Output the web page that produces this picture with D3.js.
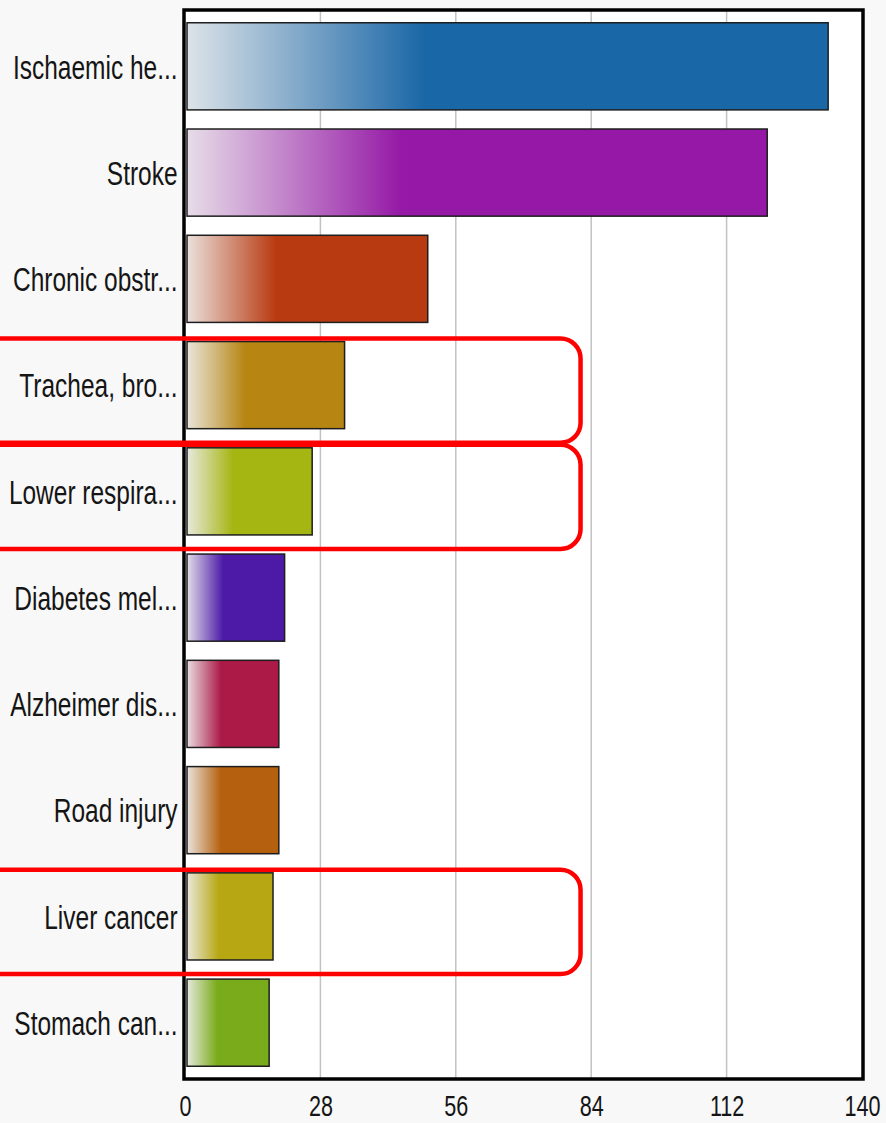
<!DOCTYPE html>
<html>
<head>
<meta charset="utf-8">
<script src="https://cdn.jsdelivr.net/npm/d3@7"></script>
<style>
    body { margin: 0; background: #f8f8f8; }
    svg { display: block; }
</style>
</head>
<body>
<svg></svg>
<script>
// causes of death, horizontal bar chart
var categories = ['Ischaemic he...', 'Stroke', 'Chronic obstr...', 'Trachea, bro...', 'Lower respira...',
    'Diabetes mel...', 'Alzheimer dis...', 'Road injury', 'Liver cancer', 'Stomach can...'];
var values = [133, 120.4, 50.2, 33, 26.3, 20.6, 19.4, 19.4, 18.2, 17.4];
var colors = ['#1a67a7', '#9519a6', '#b83a10', '#b68512', '#a5b512',
    '#4d1aa8', '#ac1a47', '#b5600e', '#b7a713', '#7aab1a'];
var xTicks = [0, 28, 56, 84, 112, 140];
var highlighted = ['Trachea, bro...', 'Lower respira...', 'Liver cancer'];

var svgWidth = 886,
    svgHeight = 1123;
var plot = {left: 184, right: 863, top: 10, bottom: 1079};

var svg = d3.select('svg')
    .attr('width', svgWidth)
    .attr('height', svgHeight);

svg.append('rect')
    .attr('width', svgWidth)
    .attr('height', svgHeight)
    .attr('fill', '#f8f8f8');

var xScale = d3.scaleLinear()
    .domain([0, 140])
    .range([plot.left + 1, plot.right - 1]);

var yScale = d3.scaleBand()
    .domain(categories)
    .range([plot.top, plot.bottom])
    .paddingInner(0.18)
    .paddingOuter(0.12);

// gradients: pale on the left, full colour from ~37% of the bar
var defs = svg.append('defs');
colors.forEach(function (c, i) {
    var grad = defs.append('linearGradient')
        .attr('id', 'grad' + i)
        .attr('x1', 0).attr('x2', 1).attr('y1', 0).attr('y2', 0);
    grad.append('stop').attr('offset', 0).attr('stop-color', d3.interpolateRgb('#eeeeee', c)(0.08));
    grad.append('stop').attr('offset', 0.37).attr('stop-color', c);
    grad.append('stop').attr('offset', 1).attr('stop-color', c);
});

// plot background
svg.append('rect')
    .attr('x', plot.left)
    .attr('y', plot.top)
    .attr('width', plot.right - plot.left)
    .attr('height', plot.bottom - plot.top)
    .attr('fill', '#ffffff');

// grid
svg.selectAll('.grid')
    .data(xTicks.slice(1, -1))
    .enter()
    .append('line')
    .attr('class', 'grid')
    .attr('x1', function (d) { return xScale(d); })
    .attr('x2', function (d) { return xScale(d); })
    .attr('y1', plot.top)
    .attr('y2', plot.bottom)
    .attr('stroke', '#c2c2c2')
    .attr('stroke-width', 1.5);

// bars
svg.selectAll('.bar')
    .data(values)
    .enter()
    .append('rect')
    .attr('class', 'bar')
    .attr('x', xScale(0) + 2)
    .attr('y', function (d, i) { return yScale(categories[i]); })
    .attr('width', function (d) { return xScale(d) - xScale(0) - 2; })
    .attr('height', yScale.bandwidth())
    .attr('fill', function (d, i) { return 'url(#grad' + i + ')'; })
    .attr('stroke', '#1e1e1e')
    .attr('stroke-width', 1.5);

// frame
svg.append('rect')
    .attr('x', plot.left)
    .attr('y', plot.top)
    .attr('width', plot.right - plot.left)
    .attr('height', plot.bottom - plot.top)
    .attr('fill', 'none')
    .attr('stroke', '#000')
    .attr('stroke-width', 3.5);

// y axis labels (narrow type)
var yAxis = svg.append('g')
    .attr('transform', 'translate(' + plot.left + ', 0)')
    .call(d3.axisLeft(yScale).tickSize(0).tickPadding(0));
yAxis.select('.domain').remove();
yAxis.selectAll('text')
    .attr('x', -9)
    .attr('dy', '0.36em')
    .attr('transform', 'scale(0.72, 1)')
    .attr('fill', '#151515')
    .style('font-family', 'Liberation Sans, Arial, sans-serif')
    .style('font-size', '34px');

// x axis labels
var xAxis = svg.append('g')
    .attr('transform', 'translate(0, ' + plot.bottom + ')')
    .call(d3.axisBottom(xScale).tickValues(xTicks).tickSize(0).tickPadding(0));
xAxis.select('.domain').remove();
xAxis.selectAll('text')
    .attr('y', 37)
    .attr('dy', 0)
    .attr('transform', 'scale(0.72, 1)')
    .attr('fill', '#151515')
    .style('font-family', 'Liberation Sans, Arial, sans-serif')
    .style('font-size', '30px');

// red highlight boxes
svg.selectAll('.highlight')
    .data(highlighted)
    .enter()
    .append('rect')
    .attr('class', 'highlight')
    .attr('x', -30)
    .attr('y', function (d) { return yScale(d) - 3; })
    .attr('width', xScale(81.8) + 30)
    .attr('height', yScale.step() - 2)
    .attr('rx', 20)
    .attr('fill', 'none')
    .attr('stroke', '#ff0000')
    .attr('stroke-width', 4.5);
</script>
</body>
</html>
